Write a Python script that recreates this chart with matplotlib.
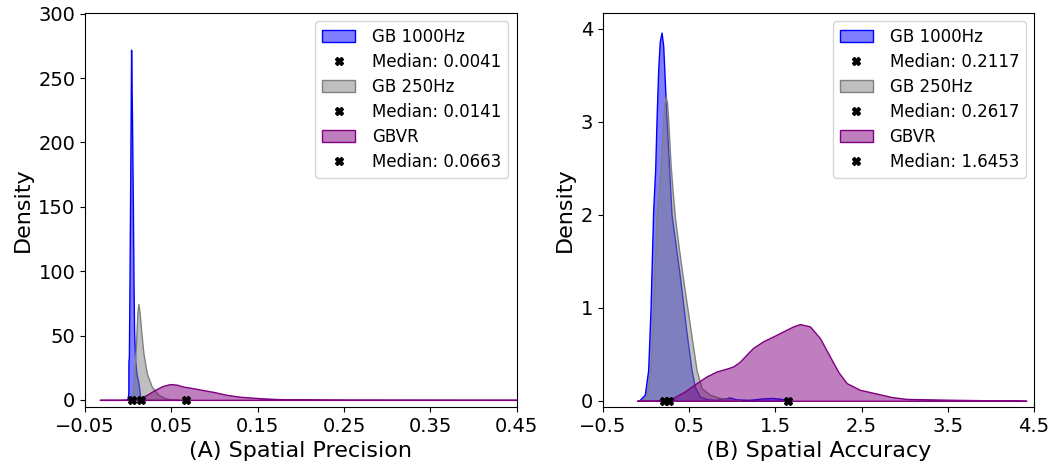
import matplotlib
matplotlib.use('Agg')
import matplotlib.pyplot as plt
from matplotlib.colors import to_rgba

# Density curves (x, density)
# (A) Spatial Precision
prec_1000_x = [-0.0025, -0.001, 0.0, 0.0001, 0.0006, 0.0012, 0.002, 0.0032, 0.0042, 0.0052, 0.006, 0.0067, 0.008, 0.0095, 0.0117, 0.0137, 0.016]
prec_1000_y = [0, 1, 5, 30, 33, 80, 155, 272, 220, 155, 90, 52, 30, 20, 13, 3, 0]
prec_250_x = [0.001, 0.004, 0.006, 0.0087, 0.0105, 0.0117, 0.013, 0.0148, 0.0175, 0.0214, 0.0271, 0.0349, 0.0426, 0.05, 0.06]
prec_250_y = [0, 3, 12, 41, 68, 74.5, 68, 54, 36, 20.7, 10.3, 3.9, 1.3, 0.3, 0]
prec_vr_x = [-0.033, -0.01, 0.005, 0.01, 0.0156, 0.0214, 0.031, 0.04, 0.0484, 0.056, 0.0638, 0.073, 0.082, 0.1, 0.114, 0.13, 0.1526, 0.17, 0.19, 0.25, 0.35, 0.47]
prec_vr_y = [0, 0, 0.2, 0.6, 2, 3.9, 7.8, 10.8, 12.3, 11.8, 10.3, 9.3, 8.2, 6.0, 3.9, 2.4, 1.3, 0.7, 0.3, 0.1, 0.05, 0.02]
prec_medians = [0.0041, 0.0141, 0.0663]

# (B) Spatial Accuracy
acc_1000_x = [-0.09, -0.071, -0.013, 0.026, 0.053, 0.084, 0.107, 0.123, 0.142, 0.16, 0.181, 0.2, 0.211, 0.239, 0.27, 0.297,
              0.393, 0.471, 0.529, 0.567, 0.625, 0.7, 0.8, 0.9, 0.97, 1.05, 1.2, 1.35, 1.47, 1.57, 1.67]
acc_1000_y = [0, 0.01, 0.065, 0.33, 0.98, 2.05, 2.48, 3.02, 3.56, 3.86, 3.96, 3.82, 3.6, 3.02, 2.48, 2.0,
              1.34, 0.73, 0.33, 0.15, 0.046, 0.02, 0.01, 0.02, 0.035, 0.015, 0.01, 0.025, 0.03, 0.02, 0]
acc_250_x = [-0.1, -0.05, 0.007, 0.053, 0.084, 0.125, 0.169, 0.2, 0.215, 0.231, 0.245, 0.258, 0.285, 0.31, 0.335,
             0.38, 0.432, 0.529, 0.587, 0.645, 0.741, 0.857, 0.95, 1.0, 1.1]
acc_250_y = [0, 0.005, 0.046, 0.33, 0.98, 2.0, 2.48, 3.02, 3.2, 3.27, 3.2, 3.02, 2.55, 2.25, 1.98,
             1.65, 1.3, 0.69, 0.33, 0.137, 0.065, 0.03, 0.02, 0.01, 0]
acc_vr_x = [-0.1, 0.1, 0.2, 0.316, 0.45, 0.587, 0.7, 0.819, 0.95, 1.012, 1.089, 1.17, 1.244, 1.36, 1.515,
            1.6, 1.708, 1.785, 1.901, 2.017, 2.133, 2.23, 2.327, 2.48, 2.71, 2.85, 3.02, 3.3, 3.6, 4.0, 4.41]
acc_vr_y = [0, 0, 0.01, 0.03, 0.1, 0.19, 0.26, 0.315, 0.35, 0.37, 0.42, 0.5, 0.57, 0.64, 0.71,
            0.75, 0.8, 0.825, 0.8, 0.674, 0.476, 0.31, 0.19, 0.118, 0.07, 0.04, 0.02, 0.015, 0.01, 0.005, 0]
acc_medians = [0.2117, 0.2617, 1.6453]

labels = ['GB 1000Hz', 'GB 250Hz', 'GBVR']
colors = ['blue', 'grey', 'purple']

panels = [
    ([(prec_1000_x, prec_1000_y), (prec_250_x, prec_250_y), (prec_vr_x, prec_vr_y)], prec_medians,
     '(A) Spatial Precision', [-0.05, 0.05, 0.15, 0.25, 0.35, 0.45], (-0.05, 0.45), (-5.4, 300.5),
     [0, 50, 100, 150, 200, 250, 300]),
    ([(acc_1000_x, acc_1000_y), (acc_250_x, acc_250_y), (acc_vr_x, acc_vr_y)], acc_medians,
     '(B) Spatial Accuracy', [-0.5, 0.5, 1.5, 2.5, 3.5, 4.5], (-0.5, 4.5), (-0.065, 4.17),
     [0, 1, 2, 3, 4]),
]

fig, axes = plt.subplots(1, 2, figsize=(10.52, 4.66), dpi=100)
fig.subplots_adjust(left=0.081, right=0.983, bottom=0.127, top=0.972, wspace=0.2)

for ax, (curves, medians, xlabel, xticks, xlim, ylim, yticks) in zip(axes, panels):
    for (x, y), med, lab, c in zip(curves, medians, labels, colors):
        ax.fill_between(x, y, 0, facecolor=to_rgba(c, 0.5), edgecolor=c, linewidth=1, label=lab)
        ax.plot([med], [0], 'X', color='black', markersize=6, linestyle='none', zorder=3,
                label=f'Median: {med:.4f}')
    ax.set_xlim(*xlim)
    ax.set_ylim(*ylim)
    ax.set_xticks(xticks)
    ax.set_yticks(yticks)
    ax.tick_params(labelsize=14)
    ax.set_xlabel(xlabel, fontsize=16)
    ax.set_ylabel('Density', fontsize=16)
    ax.legend(loc='upper right', fontsize=12, handletextpad=1.0, labelspacing=0.42)

fig.savefig('out.png')
